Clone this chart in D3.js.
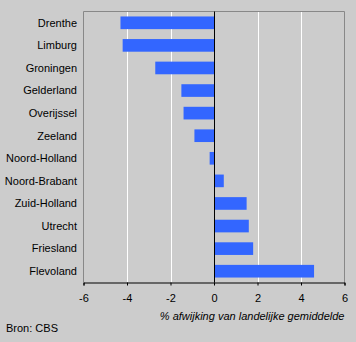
<!DOCTYPE html>
<html><head><meta charset="utf-8">
<script src="https://cdn.jsdelivr.net/npm/d3@7/dist/d3.min.js"></script>
<style>
html,body{margin:0;padding:0;background:#cccccc;}
svg{display:block;font-family:"Liberation Sans",Arial,sans-serif;}
</style></head><body>
<svg id="c" width="356" height="342"></svg>
<script>
const categories = ["Drenthe","Limburg","Groningen","Gelderland","Overijssel","Zeeland","Noord-Holland","Noord-Brabant","Zuid-Holland","Utrecht","Friesland","Flevoland"];
const values = [-4.3,-4.2,-2.7,-1.5,-1.4,-0.9,-0.2,0.45,1.5,1.6,1.8,4.6];
const xTicks = [-6,-4,-2,0,2,4,6];
const xLabel = "% afwijking van landelijke gemiddelde";
const source = "Bron: CBS";

const svg = d3.select("#c");
const L = 83.5, R = 344.5, T = 11.5, B = 282.5;
const x = d3.scaleLinear().domain([-6,6]).range([L,R]);
const y = d3.scaleBand().domain(categories).range([T,B]).paddingInner(0.44).paddingOuter(0.22);

svg.append("rect").attr("width",356).attr("height",342).attr("fill","#cccccc");

// gridlines
svg.append("g").selectAll("line").data(xTicks.filter(d=>d!==0 && Math.abs(d)!==6)).join("line")
  .attr("x1",d=>Math.round(x(d))+0.5).attr("x2",d=>Math.round(x(d))+0.5)
  .attr("y1",T).attr("y2",B).attr("stroke","#ffffff").attr("stroke-width",1);

// frame left/top/right
svg.append("path").attr("d",`M${L},${B}V${T}H${R}V${B}`).attr("fill","none").attr("stroke","#888888").attr("stroke-width",1);

// bars
svg.append("g").selectAll("rect").data(values).join("rect")
  .attr("x",(d)=>x(Math.min(0,d)))
  .attr("width",d=>Math.abs(x(d)-x(0)))
  .attr("y",(d,i)=>y(categories[i]))
  .attr("height",y.bandwidth())
  .attr("fill","#3366ff");

// zero line
svg.append("line").attr("x1",Math.round(x(0))+0.5).attr("x2",Math.round(x(0))+0.5)
  .attr("y1",T).attr("y2",B).attr("stroke","#000").attr("stroke-width",1);

// x axis
const xa = svg.append("g").attr("transform",`translate(0,${B})`)
  .call(d3.axisBottom(x).tickValues(xTicks).tickSize(3).tickPadding(9).tickFormat(d=>String(d)));
xa.select(".domain").attr("stroke","#000");
xa.selectAll(".tick line").attr("stroke","#000");
xa.selectAll("text").attr("font-size",11).attr("fill","#000").attr("font-family","Liberation Sans, Arial, sans-serif");

// y labels
svg.append("g").selectAll("text").data(categories).join("text")
  .attr("x",77).attr("y",d=>y(d)+y.bandwidth()/2).attr("dy","0.35em")
  .attr("text-anchor","end").attr("font-size",11).attr("fill","#000").text(d=>d);

svg.append("text").attr("x",R).attr("y",320).attr("text-anchor","end")
  .attr("font-size",11).attr("font-style","italic").attr("fill","#000").text(xLabel);
svg.append("text").attr("x",6).attr("y",332).attr("font-size",11).attr("fill","#000").text(source);
</script>
</body></html>
